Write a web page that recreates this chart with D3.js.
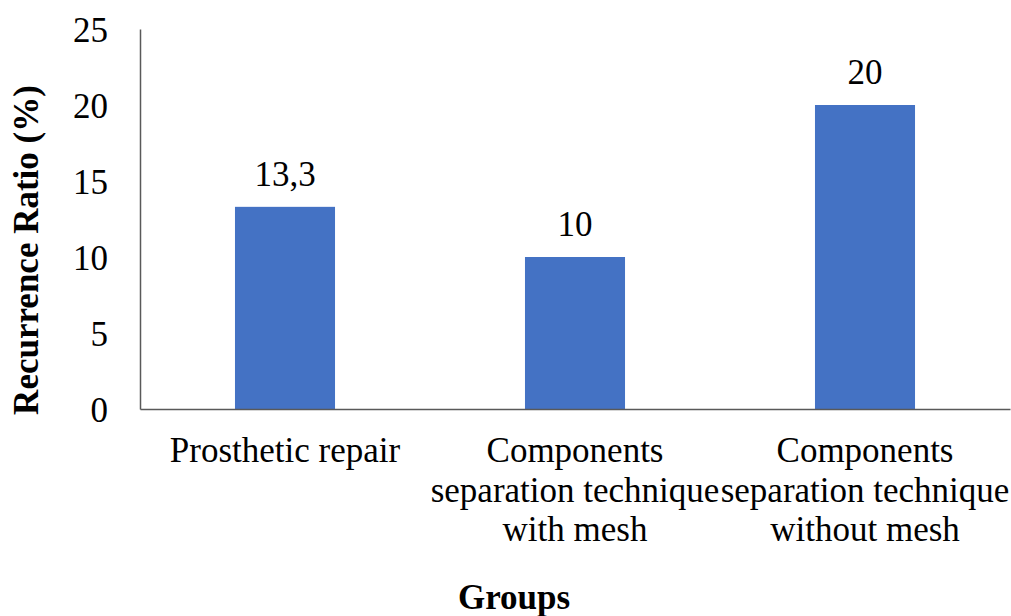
<!DOCTYPE html>
<html>
<head>
<meta charset="utf-8">
<script src="https://cdn.jsdelivr.net/npm/d3@7/dist/d3.min.js"></script>
<style>
  html, body { margin: 0; padding: 0; background: #fff; }
  svg { display: block; }
</style>
</head>
<body>
<svg id="chart" width="1011" height="616"></svg>
<script>
// Recurrence ratio by surgical group
const categories = [
  "Prosthetic repair",
  "Components separation technique with mesh",
  "Components separation technique without mesh"
];
const categoryLines = [
  ["Prosthetic repair"],
  ["Components", "separation technique", "with mesh"],
  ["Components", "separation technique", "without mesh"]
];
const values = [13.3, 10, 20];
const valueLabels = ["13,3", "10", "20"];
const yTicks = [0, 5, 10, 15, 20, 25];

const serif = "'Liberation Serif', 'Times New Roman', Tinos, 'DejaVu Serif', serif";
const fontSize = "35px";

const svg = d3.select("#chart")
  .attr("font-family", serif)
  .style("font-family", serif);
const plotLeft = 140, plotRight = 1010, plotTop = 29, plotBottom = 409;
const axisColor = "#595959";

const x = d3.scaleBand()
  .domain(categories)
  .range([plotLeft, plotRight])
  .paddingInner(0.655)
  .paddingOuter(0.3275);

const y = d3.scaleLinear()
  .domain([0, 25])
  .range([plotBottom, plotTop]);

// Bars
svg.append("g")
  .selectAll("rect")
  .data(categories)
  .join("rect")
  .attr("x", d => x(d))
  .attr("y", (d, i) => y(values[i]))
  .attr("width", x.bandwidth())
  .attr("height", (d, i) => y(0) - y(values[i]))
  .attr("fill", "#4472C4");

// Value labels
svg.append("g")
  .selectAll("text")
  .data(categories)
  .join("text")
  .attr("x", d => x(d) + x.bandwidth() / 2)
  .attr("y", (d, i) => y(values[i]) - 21)
  .attr("text-anchor", "middle")
  .style("font-family", serif)
  .style("font-size", fontSize)
  .attr("fill", "#000")
  .text((d, i) => valueLabels[i]);

// Y axis
const yAxis = svg.append("g")
  .attr("transform", `translate(${plotLeft},0)`)
  .call(d3.axisLeft(y).tickValues(yTicks).tickSize(0).tickPadding(32).tickFormat(d3.format("d")));
yAxis.attr("font-family", serif);
yAxis.select(".domain").attr("stroke", axisColor).attr("stroke-width", 1.5);
yAxis.selectAll("text")
  .style("font-family", serif)
  .style("font-size", fontSize)
  .attr("fill", "#000")
  .attr("dy", "0.35em");

// X axis
const xAxis = svg.append("g")
  .attr("transform", `translate(0,${plotBottom})`)
  .call(d3.axisBottom(x).tickSize(0).tickFormat(""));
xAxis.select(".domain").attr("stroke", axisColor).attr("stroke-width", 1.5);

// Multi-line category labels
const catLabels = svg.append("g")
  .selectAll("text")
  .data(categories)
  .join("text")
  .attr("text-anchor", "middle")
  .style("font-family", serif)
  .style("font-size", fontSize)
  .attr("fill", "#000")
  .attr("transform", d => `translate(${x(d) + x.bandwidth() / 2},462)`);
catLabels.each(function(d, i) {
  d3.select(this).selectAll("tspan")
    .data(categoryLines[i])
    .join("tspan")
    .attr("x", 0)
    .attr("y", (l, j) => j * 39.5)
    .text(l => l);
});

// Axis titles
svg.append("text")
  .attr("x", 514)
  .attr("y", 609)
  .attr("text-anchor", "middle")
  .style("font-family", serif)
  .style("font-size", fontSize)
  .style("font-weight", "bold")
  .attr("fill", "#000")
  .text("Groups");

svg.append("text")
  .attr("transform", "translate(38,250) rotate(-90)")
  .attr("text-anchor", "middle")
  .style("font-family", serif)
  .style("font-size", fontSize)
  .style("font-weight", "bold")
  .attr("fill", "#000")
  .text("Recurrence Ratio (%)");
</script>
</body>
</html>
